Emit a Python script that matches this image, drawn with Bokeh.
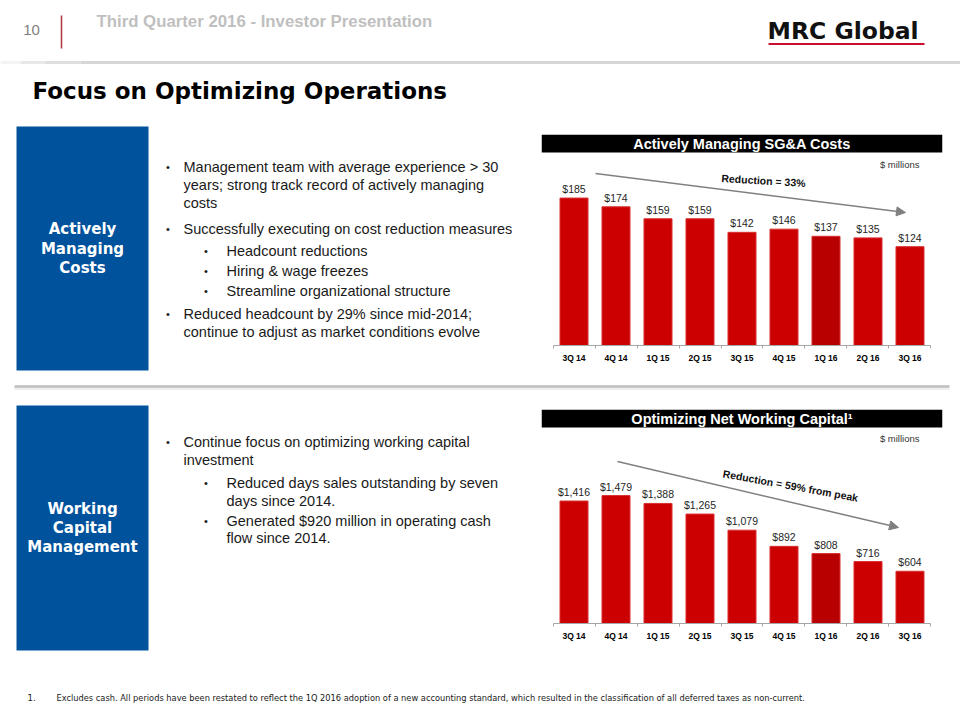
from bokeh.plotting import figure
from bokeh.layouts import column, row
from bokeh.models import (ColumnDataSource, Range1d, LinearAxis, FixedTicker, LabelSet, Label,
                          BoxAnnotation, Arrow, NormalHead)
from bokeh.core.properties import value
from bokeh.embed import file_html
from bokeh.resources import INLINE

# ---------------- data ----------------
quarters = ["3Q 14", "4Q 14", "1Q 15", "2Q 15", "3Q 15", "4Q 15", "1Q 16", "2Q 16", "3Q 16"]
sga_costs = [185, 174, 159, 159, 142, 146, 137, 135, 124]
net_working_capital = [1416, 1479, 1388, 1265, 1079, 892, 808, 716, 604]
highlight_quarter = "1Q 16"

page_number = "10"
header_text = "Third Quarter 2016 - Investor Presentation"
logo_text = "MRC Global"
slide_title = "Focus on Optimizing Operations"

section1_label = ["Actively", "Managing", "Costs"]
section1_bullets = [
    (0, ["Management team with average experience > 30",
         "years; strong track record of actively managing",
         "costs"]),
    (0, ["Successfully executing on cost reduction measures"]),
    (1, ["Headcount reductions"]),
    (1, ["Hiring & wage freezes"]),
    (1, ["Streamline organizational structure"]),
    (0, ["Reduced headcount by 29% since mid-2014;",
         "continue to adjust as market conditions evolve"]),
]
section2_label = ["Working", "Capital", "Management"]
section2_bullets = [
    (0, ["Continue focus on optimizing working capital", "investment"]),
    (1, ["Reduced days sales outstanding by seven", "days since 2014."]),
    (1, ["Generated $920 million in operating cash", "flow since 2014."]),
]
chart1_title = "Actively Managing SG&A Costs"
chart2_title = "Optimizing Net Working Capital\u00b9"
units_text = "$ millions"
chart1_note = "Reduction = 33%"
chart2_note = "Reduction = 59% from peak"
footnote_number = "1."
footnote_text = ("Excludes cash.  All periods have been restated to reflect the 1Q 2016 adoption of a new "
                 "accounting standard, which  resulted in  the classification of all deferred taxes as non-current.")

# ---------------- styles / layout ----------------
SANS = "Liberation Sans"
HEAVY = "DejaVu Sans"
BLUE = "#00529C"
RED = "#CC0000"
RED_DARK = "#B80000"
TEXT = "#1a1a1a"


def no_grid(p):
    for g in p.grid:
        g.grid_line_color = None
        g.visible = False


def canvas(x0, x1, y0, y1):
    p = figure(width=x1 - x0, height=y1 - y0, x_range=Range1d(x0, x1), y_range=Range1d(y1, y0),
               toolbar_location=None, tools="", output_backend="svg", min_border=0,
               x_axis_location=None, y_axis_location=None, title=None, frame_align=False,
               outline_line_color=None, background_fill_color="white", border_fill_color="white")
    no_grid(p)
    return p


def txt(p, xs, ys, texts, size, font=SANS, color=TEXT, align="left", style="normal", baseline="middle"):
    p.text(x=xs, y=ys, text=texts, text_font=value(font), text_font_size=value(size),
           text_color=color, text_align=align, text_baseline=baseline, text_font_style=style)


def section_panel(y0, y1, box_top, box_bottom, label_lines, bullets, para_starts):
    p = canvas(0, 530, y0, y1)
    p.quad(left=16, right=148, top=box_top, bottom=box_bottom, fill_color=BLUE, line_color=None)
    mid = (box_top + box_bottom) / 2
    n = len(label_lines)
    ys = [mid + (i - (n - 1) / 2) * 19.2 for i in range(n)]
    txt(p, [82] * n, ys, label_lines, "15px", font=HEAVY, color="white", align="center", style="bold")
    lx, ly, lt, bx, by = [], [], [], [], []
    for (level, lines), ystart in zip(bullets, para_starts):
        tx = 183 if level == 0 else 226
        bx.append(167.5 if level == 0 else 205.5)
        by.append(ystart)
        for i, line in enumerate(lines):
            lx.append(tx)
            ly.append(ystart + i * 17.8)
            lt.append(line)
    txt(p, lx, ly, lt, "14.5px")
    txt(p, bx, by, ["\u2022"] * len(bx), "11px", align="center")
    return p


def bar_chart(values, title, note, note_xy, note_angle, arrow_from, arrow_to,
              fig_top, fig_bottom, frame_top, frame_bottom, ppu, title_bottom, units_y):
    left_px, step_px, pad = 541, 42.0, 0.274
    n = len(quarters)

    def sx(px):
        return (px - left_px) / step_px - pad - 0.5

    def sy(py):
        return (frame_bottom - py) / ppu

    ymax = (frame_bottom - frame_top) / ppu
    p = figure(width=430, height=fig_bottom - fig_top,
               x_range=Range1d(-0.5 - pad, n - 0.5 + pad),
               y_range=Range1d(0, ymax), toolbar_location=None, tools="", output_backend="svg",
               x_axis_location=None, y_axis_location=None, title=None, frame_align=False,
               min_border_left=11, min_border_right=18,
               min_border_top=frame_top - fig_top, min_border_bottom=fig_bottom - frame_bottom,
               outline_line_color=None, background_fill_color="white", border_fill_color="white")
    no_grid(p)

    positions = list(range(n))
    colors = [RED_DARK if q == highlight_quarter else RED for q in quarters]
    src = ColumnDataSource(data=dict(pos=positions, quarter=quarters, value=values,
                                     label=[f"${v:,}" for v in values], color=colors))
    p.vbar(x="pos", top="value", width=0.667, source=src, fill_color="color",
           line_color="#D83030", line_width=1)
    p.add_layout(LabelSet(x="pos", y="value", text="label", source=src, text_align="center",
                          text_baseline="alphabetic", y_offset=5, text_font_size=value("10.5px"),
                          text_font=value(SANS), text_color="#262626"))

    # category axis: labels at the bar centres, small ticks at the category boundaries
    axis = LinearAxis(ticker=FixedTicker(ticks=positions, minor_ticks=[i - 0.5 for i in range(n + 1)]),
                      major_label_overrides={i: q for i, q in enumerate(quarters)},
                      bounds=(-0.5, n - 0.5), axis_line_color="#A6A6A6", axis_line_width=1,
                      major_tick_line_color=None, minor_tick_line_color="#A6A6A6",
                      minor_tick_in=0, minor_tick_out=3, major_tick_out=3, major_tick_in=0,
                      major_label_standoff=4, major_label_text_font=SANS,
                      major_label_text_font_style="bold", major_label_text_font_size="8.5px",
                      major_label_text_color="black")
    p.add_layout(axis, "below")

    # title bar
    p.add_layout(BoxAnnotation(top=ymax, bottom=sy(title_bottom), fill_color="black", fill_alpha=1,
                               line_color=None))
    p.add_layout(Label(x=(n - 1) / 2, y=sy((frame_top + title_bottom) / 2), text=title,
                       text_align="center", text_baseline="middle", text_color="white",
                       text_font=SANS, text_font_style="bold", text_font_size="14.5px"))
    p.add_layout(Label(x=sx(919), y=sy(units_y), text=units_text, text_align="right",
                       text_baseline="middle", text_color="#333333", text_font=SANS,
                       text_font_size="9.5px"))
    p.add_layout(Arrow(x_start=sx(arrow_from[0]), y_start=sy(arrow_from[1]),
                       x_end=sx(arrow_to[0]), y_end=sy(arrow_to[1]),
                       line_color="#808080", line_width=1.5,
                       end=NormalHead(size=9, fill_color="#7F7F7F", line_color="#7F7F7F")))
    p.add_layout(Label(x=sx(note_xy[0]), y=sy(note_xy[1]), text=note, angle=note_angle,
                       text_align="center", text_baseline="middle", text_color="#111111",
                       text_font=SANS, text_font_style="bold", text_font_size="10.5px"))
    return p


# ---------------- header ----------------
header = canvas(0, 960, 0, 125)
txt(header, [22.7], [29.3], [page_number], "15px", color="#7F7F7F")
header.segment(x0=[61], y0=[15], x1=[61], y1=[48], line_color="#B5333A", line_width=1.5)
txt(header, [96], [21], [header_text], "16.8px", color="#BFBFBF", style="bold")
txt(header, [767], [30.5], [logo_text], "23.5px", font=HEAVY, color="#111111", style="bold")
header.segment(x0=[768], y0=[43.5], x1=[924], y1=[43.5], line_color="#C8102E", line_width=2)
header.segment(x0=[0, 20, 45, 80], y0=[62] * 4, x1=[20, 45, 80, 960], y1=[62] * 4,
               line_color=["#F4F4F4", "#E8E8E8", "#DEDEDE", "#D6D6D6"], line_width=3)
txt(header, [32], [90.7], [slide_title], "23px", font=HEAVY, color="black", style="bold")

# ---------------- sections ----------------
left1 = section_panel(125, 375, 126, 370, section1_label, section1_bullets,
                      [166.7, 228.3, 250, 270.7, 290.7, 313.3])
chart1 = bar_chart(sga_costs, chart1_title, chart1_note, (763, 180), -0.059, (595, 173), (905, 212),
                   125, 375, 134, 345, 0.797, 152, 163.5)

sep = canvas(0, 960, 375, 400)
sep.segment(x0=[14], y0=[386], x1=[949], y1=[386], line_color="#BDBDBD", line_width=2.5)
sep.segment(x0=[14], y0=[388.5], x1=[949], y1=[388.5], line_color="#E8E8E8", line_width=1.5)

left2 = section_panel(400, 655, 405, 650, section2_label, section2_bullets, [441.7, 482.3, 520])
chart2 = bar_chart(net_working_capital, chart2_title, chart2_note, (790, 485), -0.18, (617, 461),
                   (898, 527), 400, 655, 409, 623, 0.0865, 427, 438)

# ---------------- footer ----------------
footer = canvas(0, 960, 655, 720)
narrow = "Liberation Sans Narrow, DejaVu Sans Condensed, Liberation Sans"
txt(footer, [27], [697], [footnote_number], "9.5px", font=narrow)
txt(footer, [56], [697], [footnote_text], "9.2px", font=narrow)

layout = column(header, row(left1, chart1), sep, row(left2, chart2), footer)

open("out.html", "w").write(file_html(layout, INLINE))
